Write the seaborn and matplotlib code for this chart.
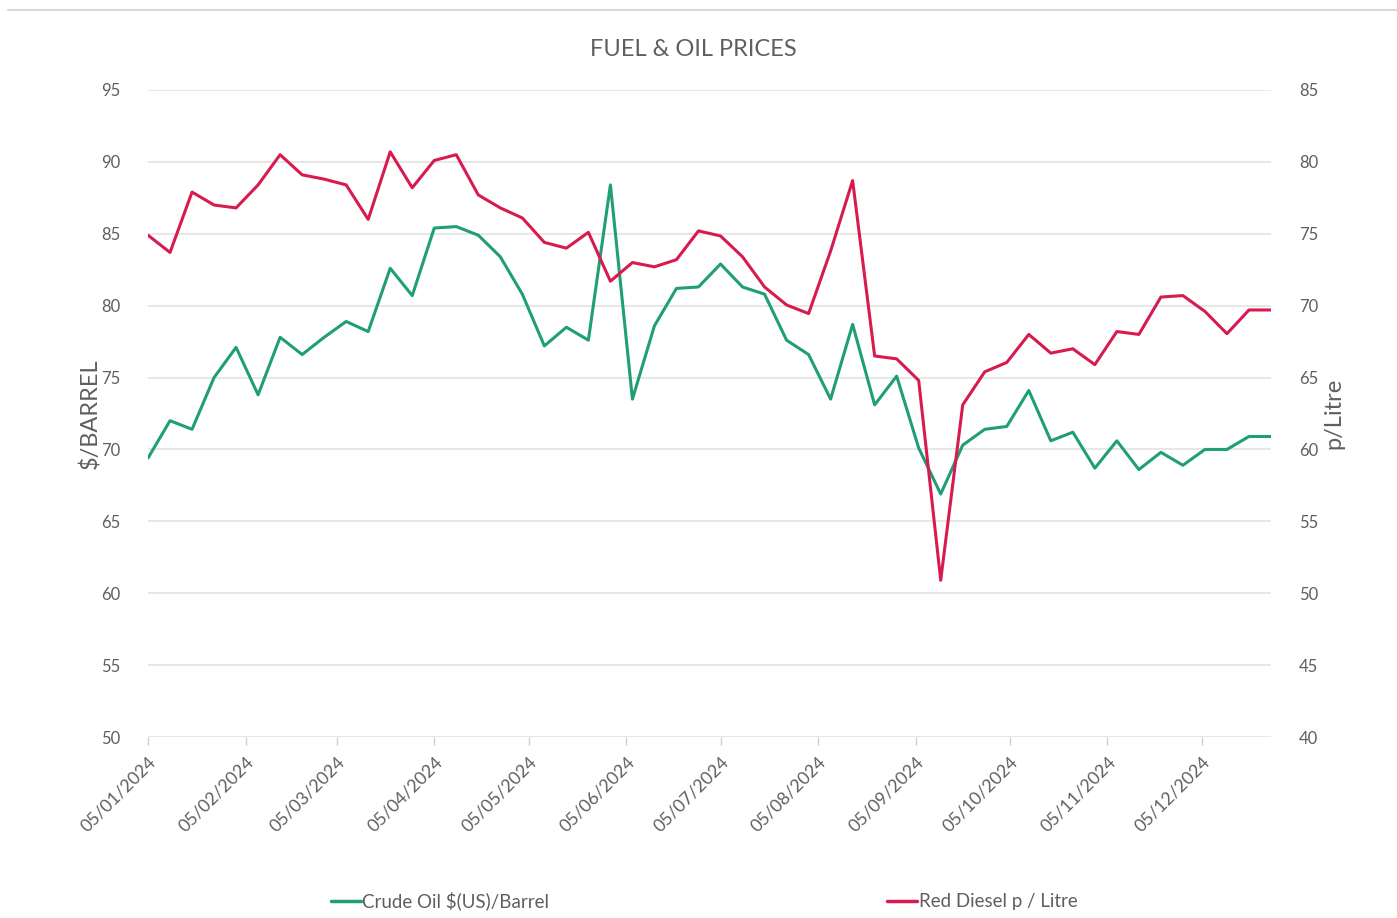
import matplotlib
matplotlib.use("Agg")
import matplotlib.pyplot as plt
import matplotlib.dates as mdates
from matplotlib.lines import Line2D
import seaborn as sns
import pandas as pd

crude_oil = [69.4, 72.0, 71.4, 75.0, 77.1, 73.8, 77.8, 76.6, 77.8, 78.9,
             78.2, 82.6, 80.7, 85.4, 85.5, 84.9, 83.4, 80.8, 77.2, 78.5,
             77.6, 88.4, 73.5, 78.6, 81.2, 81.3, 82.9, 81.3, 80.8, 77.6,
             76.6, 73.5, 78.7, 73.1, 75.1, 70.1, 66.9, 70.3, 71.4, 71.6,
             74.1, 70.6, 71.2, 68.7, 70.6, 68.6, 69.8, 68.9, 70.0, 70.0,
             70.9, 70.9]
red_diesel = [74.9, 73.7, 77.9, 77.0, 76.8, 78.4, 80.5, 79.1, 78.8, 78.4,
              76.0, 80.7, 78.2, 80.1, 80.5, 77.7, 76.8, 76.1, 74.4, 74.0,
              75.1, 71.7, 73.0, 72.7, 73.2, 75.2, 74.85, 73.4, 71.3, 70.05,
              69.45, 73.8, 78.7, 66.5, 66.3, 64.8, 50.9, 63.1, 65.4, 66.05,
              68.0, 66.7, 67.0, 65.9, 68.2, 68.0, 70.6, 70.7, 69.6, 68.05,
              69.7, 69.7]
dates = pd.date_range("2024-01-05", periods=len(crude_oil), freq="7D")

title = "FUEL & OIL PRICES"
left_label = "$/BARREL"
right_label = "p/Litre"
crude_name = "Crude Oil $(US)/Barrel"
diesel_name = "Red Diesel p / Litre"

GREEN = "#1f9e78"
RED = "#d81b4f"
TXT = "#5f5f5f"
GRID = "#e3e3e3"

df = pd.DataFrame({"date": dates, "crude": crude_oil, "diesel": red_diesel})

sns.set_theme(style="white")
plt.rcParams["font.family"] = ["Lato", "DejaVu Sans"]

fig = plt.figure(figsize=(13.97, 9.18), dpi=100)
ax = fig.add_axes([148 / 1397, 1 - 737 / 918, (1271 - 148) / 1397, (737 - 90) / 918])
ax2 = ax.twinx()

sns.lineplot(data=df, x="date", y="crude", ax=ax, color=GREEN, linewidth=2.2, label=crude_name, legend=False)
sns.lineplot(data=df, x="date", y="diesel", ax=ax2, color=RED, linewidth=2.2, label=diesel_name, legend=False)

ax.set_ylim(50, 95)
ax2.set_ylim(40, 85)
ax.set_yticks(range(50, 96, 5))
ax2.set_yticks(range(40, 86, 5))
ax.set_xlim(dates[0], dates[-1])

ax.grid(axis="y", color=GRID, linewidth=1.2)
ax.grid(axis="x", visible=False)
ax2.grid(False)
for a in (ax, ax2):
    for s in a.spines.values():
        s.set_visible(False)

ax.xaxis.set_major_locator(mdates.MonthLocator(bymonthday=5))
ax.xaxis.set_major_formatter(mdates.DateFormatter("%d/%m/%Y"))
ax.tick_params(axis="x", which="major", length=6, width=1, color="#d0d0d0",
               labelsize=12.8, labelcolor=TXT, pad=6, bottom=True)
for lbl in ax.get_xticklabels():
    lbl.set_rotation(45)
    lbl.set_ha("right")
    lbl.set_rotation_mode("anchor")

ax.tick_params(axis="y", length=0, labelsize=12, labelcolor=TXT, pad=20)
ax2.tick_params(axis="y", length=0, labelsize=12, labelcolor=TXT, pad=20)

ax.set_xlabel("")
ax.set_ylabel(left_label, fontsize=17, color=TXT, labelpad=0)
ax2.set_ylabel(right_label, fontsize=17, color=TXT, labelpad=4)

fig.text(693 / 1397, 1 - 50 / 918, title, ha="center", va="center", fontsize=17, color=TXT)

fig.add_artist(Line2D([8 / 1397, 1], [1 - 10 / 918, 1 - 10 / 918], color="#d8d8d8", linewidth=1.5))

handles = [Line2D([], [], color=GREEN, linewidth=2.5), Line2D([], [], color=RED, linewidth=2.5)]
fig.legend(handles, [crude_name, diesel_name], loc="center", bbox_to_anchor=(704 / 1397, 1 - 901 / 918),
           ncol=2, frameon=False, fontsize=13.5, labelcolor=TXT, handlelength=1.6, handletextpad=0.1,
           columnspacing=18.0)

fig.savefig("out.png", dpi=100)
